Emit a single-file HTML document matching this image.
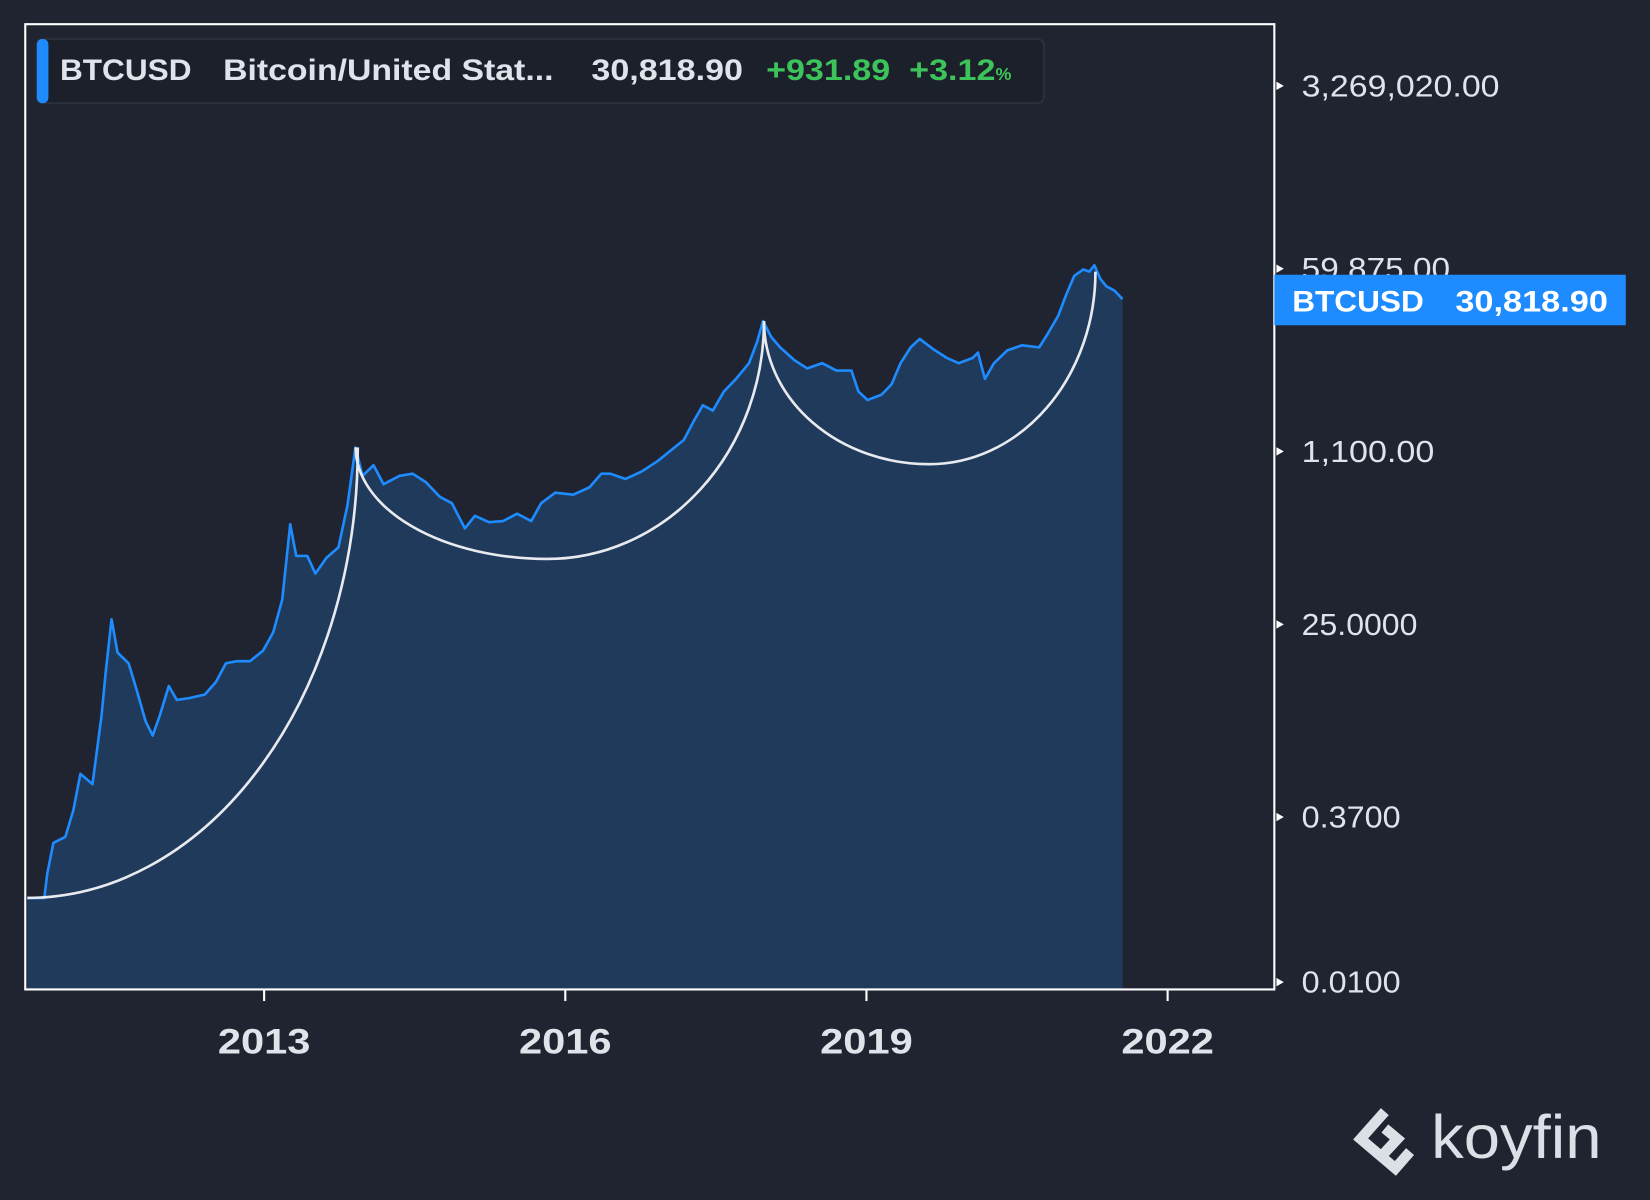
<!DOCTYPE html>
<html><head><meta charset="utf-8"><style>
html,body{margin:0;padding:0;background:#1f2430;}
svg{display:block;font-family:"Liberation Sans",sans-serif;}
</style></head><body>
<svg id="chart" width="1650" height="1200" viewBox="0 0 1568 1140" preserveAspectRatio="none">
<rect x="0" y="0" width="1568" height="1140" fill="#1f2430"/>
<g id="plot"></g>
<g id="arcs" fill="none" stroke="#e8eaef" stroke-width="2.5">
<path d="M26,853 A314,428 0 0 0 340,425"/>
<path d="M338,425 A182,106 0 0 0 520,531 A206,226 0 0 0 726,305"/>
<path d="M726,305 A157,136 0 0 0 883,441 A158,183 0 0 0 1041,258"/>
</g>
<g stroke="#ffffff" stroke-width="2" fill="none">
<path d="M24,23 H1211 V940 H24 Z"/>
</g>
<g id="yaxis"></g>
<g id="xaxis"></g>
<g>
<rect x="35" y="37" width="957" height="61" rx="6" fill="#1c202b" stroke="#2a2f3b" stroke-width="2"/>
<rect x="35" y="37" width="11" height="61" rx="5" fill="#1e8bff"/>
<g font-weight="bold" font-size="28" fill="#e0e3ea">
<text x="57" y="76" textLength="125" lengthAdjust="spacingAndGlyphs">BTCUSD</text>
<text x="212" y="76" textLength="314" lengthAdjust="spacingAndGlyphs">Bitcoin/United Stat...</text>
<text x="562" y="76" textLength="144" lengthAdjust="spacingAndGlyphs">30,818.90</text>
<text x="728" y="76" fill="#3cc45b" textLength="118" lengthAdjust="spacingAndGlyphs">+931.89</text>
<text x="864" y="76" fill="#3cc45b"><tspan textLength="82" lengthAdjust="spacingAndGlyphs">+3.12</tspan><tspan font-size="17">%</tspan></text>
</g>
</g>
<g>
<rect x="1211" y="261" width="334" height="48" fill="#1e8bff"/>
<text x="1228" y="296" font-size="28" font-weight="bold" fill="#fff" textLength="125" lengthAdjust="spacingAndGlyphs">BTCUSD</text>
<text x="1383" y="296" font-size="28" font-weight="bold" fill="#fff" textLength="145" lengthAdjust="spacingAndGlyphs">30,818.90</text>
</g>
<g fill="#dcdfe5">
<g fill="none" stroke="#dcdfe5" stroke-width="10" stroke-linejoin="miter">
<path d="M1316,1056 L1293,1082 L1326,1110 L1340,1094"/>
<path d="M1316,1072 L1328,1082 L1315,1096"/>
</g>
<text x="1360" y="1100" font-size="58" fill="#dcdfe5" textLength="162" lengthAdjust="spacingAndGlyphs">koyfin</text>
</g>
</svg>
<script>
const years = [2010.64,2010.81,2010.84,2010.90,2011.02,2011.10,2011.17,2011.29,2011.38,2011.42,2011.48,2011.54,2011.65,2011.73,2011.82,2011.89,2011.96,2012.05,2012.13,2012.26,2012.41,2012.52,2012.62,2012.73,2012.86,2012.99,2013.09,2013.18,2013.26,2013.32,2013.43,2013.51,2013.62,2013.74,2013.83,2013.91,2013.98,2014.09,2014.19,2014.35,2014.48,2014.61,2014.75,2014.87,2015.00,2015.10,2015.24,2015.38,2015.52,2015.66,2015.76,2015.90,2016.08,2016.24,2016.36,2016.45,2016.60,2016.76,2016.92,2017.05,2017.18,2017.28,2017.37,2017.47,2017.58,2017.70,2017.83,2017.91,2017.97,2018.05,2018.14,2018.28,2018.41,2018.56,2018.70,2018.85,2018.92,2019.01,2019.15,2019.25,2019.34,2019.44,2019.53,2019.67,2019.80,2019.92,2020.06,2020.11,2020.18,2020.27,2020.40,2020.55,2020.72,2020.80,2020.91,2020.99,2021.07,2021.16,2021.22,2021.27,2021.33,2021.39,2021.47,2021.55];
const prices = [0.063,0.063,0.107,0.21,0.24,0.43,0.95,0.76,3.4,8.5,28,13.5,10.7,6.0,3.0,2.2,3.4,6.5,4.8,5.0,5.4,7.1,10.7,11.2,11.2,14.1,21,43,224,112,112,76,107,135,339,1200,646,813,537,646,676,562,407,355,204,269,234,240,282,240,355,447,427,501,676,676,603,708,891,1122,1413,2138,3020,2692,4074,5370,7586,12023,19055,13490,10715,8128,6761,7586,6457,6457,4074,3388,3800,4786,7586,10715,12880,10233,8511,7586,8511,9550,5370,7586,10000,11220,10715,14125,21380,33884,51286,58884,56234,64565,47863,40738,37154,30819];
const yTickValues = [0.01,0.37,25,1100,59875,3269020];
const yTickLabels = ["0.0100","0.3700","25.0000","1,100.00","59,875.00","3,269,020.00"];
const xTickYears = [2013,2016,2019,2022];
const xTickLabels = ["2013","2016","2019","2022"];

const NS = "http://www.w3.org/2000/svg";
function xScale(t){ return 251 + (t - 2013) * 95.4; }
function yScale(v){ return 933 - 100 * (Math.log10(v) + 2); }
function mk(tag, attrs, parent){ const e = document.createElementNS(NS, tag); for (const k in attrs) e.setAttribute(k, attrs[k]); parent.appendChild(e); return e; }

const plot = document.getElementById('plot');
let line = '';
years.forEach((t,i)=>{ line += (i ? 'L' : 'M') + xScale(t).toFixed(1) + ',' + yScale(prices[i]).toFixed(1); });
const area = mk('path', {d: line + 'L' + xScale(years[years.length-1]).toFixed(1) + ',940 L' + xScale(years[0]).toFixed(1) + ',940 Z', fill:'#203a5b'}, plot);


const ln = mk('path', {d: line, fill:'none', stroke:'#1e8bff', 'stroke-width':'2.5', 'stroke-linejoin':'round'}, plot);



const ya = document.getElementById('yaxis');
yTickValues.forEach((v,i)=>{
  const y = yScale(v);
  const tk = mk('path', {d:'M1213,'+(y-4)+' L1220,'+y+' L1213,'+(y+4)+' Z', fill:'#fff'}, ya);
  
  
  const tx = mk('text', {x:1237, y:y+10, 'font-size':'29', fill:'#e0e3ea', textLength: (yTickLabels[i].length * 15.7).toFixed(0), lengthAdjust:'spacingAndGlyphs'}, ya);
  tx.textContent = yTickLabels[i];
  
  
});
const xa = document.getElementById('xaxis');
xTickYears.forEach((t,i)=>{
  const x = xScale(t);
  const tk = mk('line', {x1:x, x2:x, y1:940, y2:951, stroke:'#fff', 'stroke-width':'2'}, xa);
  
  
  const tx = mk('text', {x:x, y:1001, 'font-size':'33', 'font-weight':'bold', fill:'#e0e3ea', 'text-anchor':'middle', textLength:'88', lengthAdjust:'spacingAndGlyphs'}, xa);
  tx.textContent = xTickLabels[i];
  
  
});
</script>
</body></html>
